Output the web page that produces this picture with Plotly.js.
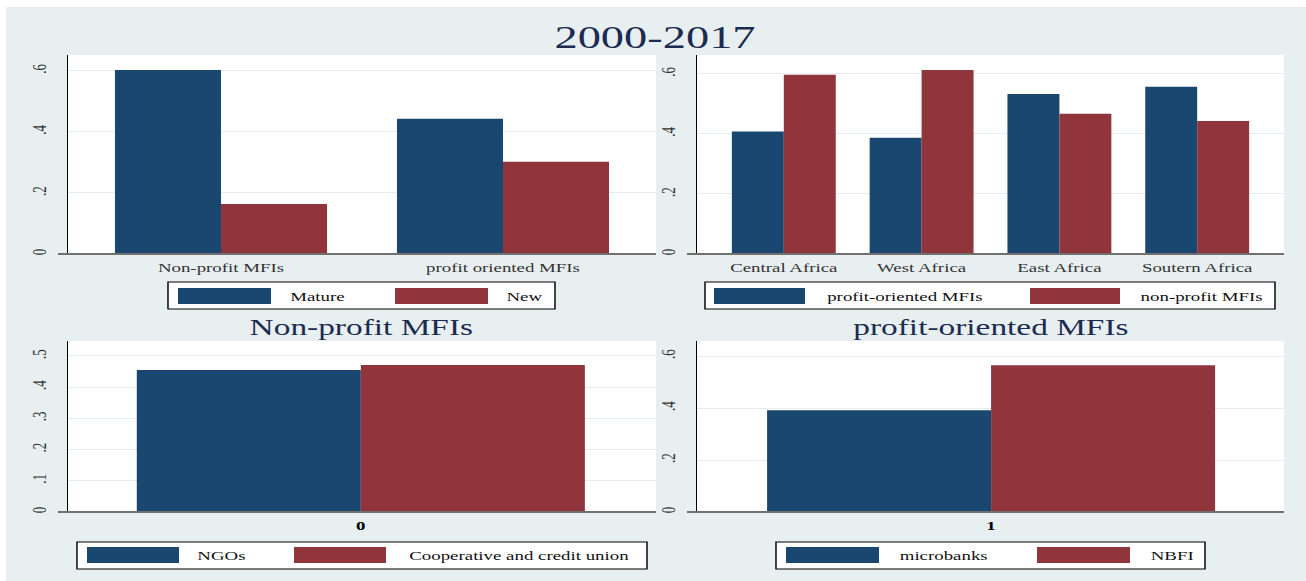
<!DOCTYPE html>
<html><head><meta charset="utf-8">
<script src="https://cdn.plot.ly/plotly-3.0.1.min.js"></script>
<style>
html,body{margin:0;padding:0;background:#fff;overflow:hidden}
#wrap{width:1306px;height:581px;overflow:hidden}
#chart{width:900px;height:581px;transform:scale(1.451111,1);transform-origin:0 0}
</style></head>
<body><div id="wrap"><div id="chart"></div></div>
<script>
// ---------- data ----------
const ownershipCategories = ['Non-profit MFIs', 'profit oriented MFIs'];
const matureShare = [0.603, 0.443];
const newShare = [0.164, 0.302];

const regions = ['Central Africa', 'West Africa', 'East Africa', 'Soutern Africa'];
const profitOrientedShare = [0.408, 0.387, 0.533, 0.557];
const nonProfitShare = [0.597, 0.613, 0.467, 0.443];

const nonProfitCategory = ['0'];
const ngoShare = [0.455];
const coopShare = [0.471];

const profitCategory = ['1'];
const microbankShare = [0.392];
const nbfiShare = [0.565];

const tickVals6 = [0, 0.2, 0.4, 0.6];
const tickText6 = ['0', '.2', '.4', '.6'];
const tickVals5 = [0, 0.1, 0.2, 0.3, 0.4, 0.5];
const tickText5 = ['0', '.1', '.2', '.3', '.4', '.5'];

const legendTop1 = ['Mature', 'New'];
const legendTop2 = ['profit-oriented MFIs', 'non-profit MFIs'];
const legendBot1 = ['NGOs', 'Cooperative and credit union'];
const legendBot2 = ['microbanks', 'NBFI'];

const mainTitle = '2000-2017';
const subTitles = ['Non-profit MFIs', 'profit-oriented MFIs'];

// ---------- style ----------
const NAVY = '#1a476f', MAROON = '#90353b';
const BG = '#E8EFF1', GRID = '#E4ECEF';
const SERIF = 'Liberation Serif, Times New Roman, serif';
const W = 1306, H = 581;
const X = px => px / W;
const Y = py => 1 - py / H;

function bar(x, y, color, xa, ya, w, off) {
  return {type: 'bar', x: x, y: y, xaxis: xa, yaxis: ya, width: w, offset: off,
          marker: {color: color, line: {width: 0}}, hoverinfo: 'skip'};
}

const data = [
  bar(ownershipCategories, matureShare, NAVY, 'x', 'y', 0.376, -0.376),
  bar(ownershipCategories, newShare, MAROON, 'x', 'y', 0.376, 0),
  bar(regions, profitOrientedShare, NAVY, 'x2', 'y2', 0.377, -0.377),
  bar(regions, nonProfitShare, MAROON, 'x2', 'y2', 0.377, 0),
  bar(nonProfitCategory, ngoShare, NAVY, 'x3', 'y3', 0.381, -0.381),
  bar(nonProfitCategory, coopShare, MAROON, 'x3', 'y3', 0.381, 0),
  bar(profitCategory, microbankShare, NAVY, 'x4', 'y4', 0.3816, -0.3816),
  bar(profitCategory, nbfiShare, MAROON, 'x4', 'y4', 0.3816, 0)
];

function xax(d, range, anchor, font) {
  return {domain: d, type: 'category', range: range, anchor: anchor,
          showgrid: false, zeroline: false, showline: false, ticks: '',
          tickfont: font, ticklabelstandoff: 4, fixedrange: true};
}
function yax(d, range, tv, tt, anchor) {
  return {domain: d, range: range, anchor: anchor, tickvals: tv, ticktext: tt,
          tickangle: -90, showline: true, linecolor: '#000', linewidth: 1,
          ticks: '', showgrid: true, gridcolor: GRID, gridwidth: 1, zeroline: false,
          tickfont: {family: SERIF, size: 13, color: '#333'},
          ticklabelstandoff: 9, fixedrange: true};
}
const catFont = {family: SERIF, size: 13, color: '#333'};
const boldFont = {family: SERIF, size: 13, color: '#000', weight: 'bold'};

const shapes = [
  // white strips outside the graph region
  {type: 'rect', xref: 'paper', yref: 'paper', x0: 0, x1: 1, y0: Y(7), y1: 1, fillcolor: '#fff', line: {width: 0}, layer: 'below'},
  {type: 'rect', xref: 'paper', yref: 'paper', x0: 0, x1: X(6), y0: 0, y1: 1, fillcolor: '#fff', line: {width: 0}, layer: 'below'},
];
// x-axis baselines
[[58, 656, 254], [687, 1284, 254], [58, 656, 512], [687, 1284, 512]].forEach(a => {
  shapes.push({type: 'line', xref: 'paper', yref: 'paper', x0: X(a[0]), x1: X(a[1]), y0: Y(a[2]), y1: Y(a[2]),
               line: {color: '#707070', width: 2}});
});

const annotations = [];
function legend(box, sw1, sw2, t1, t2, labels, swy) {
  shapes.push({type: 'rect', xref: 'paper', yref: 'paper', x0: X(box[0]), x1: X(box[1]), y0: Y(box[3]), y1: Y(box[2]),
               fillcolor: '#fff', line: {color: '#000', width: 1}});
  shapes.push({type: 'rect', xref: 'paper', yref: 'paper', x0: X(sw1[0]), x1: X(sw1[1]), y0: Y(swy[1]), y1: Y(swy[0]),
               fillcolor: NAVY, line: {width: 0}});
  shapes.push({type: 'rect', xref: 'paper', yref: 'paper', x0: X(sw2[0]), x1: X(sw2[1]), y0: Y(swy[1]), y1: Y(swy[0]),
               fillcolor: MAROON, line: {width: 0}});
  const ym = Y((swy[0] + swy[1]) / 2);
  annotations.push({xref: 'paper', yref: 'paper', x: X(t1), y: ym, xanchor: 'center', yanchor: 'middle', showarrow: false,
                    text: labels[0], font: {family: SERIF, size: 13, color: '#111'}});
  annotations.push({xref: 'paper', yref: 'paper', x: X(t2), y: ym, xanchor: 'center', yanchor: 'middle', showarrow: false,
                    text: labels[1], font: {family: SERIF, size: 13, color: '#111'}});
}
legend([168, 555, 282, 309], [178, 271], [395, 488], 318, 524, legendTop1, [288, 304]);
legend([705, 1275, 282, 309], [714, 805], [1030, 1120], 905, 1202, legendTop2, [288, 304]);
legend([77, 647, 542, 569], [87, 179], [294, 386], 222, 519, legendBot1, [547, 563]);
legend([776, 1205, 542, 569], [786, 879], [1037, 1130], 944, 1172, legendBot2, [547, 563]);

annotations.push({xref: 'paper', yref: 'paper', x: X(362), y: Y(327), xanchor: 'center', yanchor: 'middle', showarrow: false,
                  text: subTitles[0], font: {family: SERIF, size: 23, color: '#1c2b50'}});
annotations.push({xref: 'paper', yref: 'paper', x: X(991), y: Y(327), xanchor: 'center', yanchor: 'middle', showarrow: false,
                  text: subTitles[1], font: {family: SERIF, size: 23, color: '#1c2b50'}});

const layout = {
  width: 900, height: H,
  margin: {l: 0, r: 0, t: 0, b: 0},
  paper_bgcolor: BG, plot_bgcolor: '#fff',
  showlegend: false,
  barmode: 'group',
  title: {text: mainTitle, x: X(655), xanchor: 'center', y: Y(37), yanchor: 'middle',
          font: {family: SERIF, size: 32, color: '#1c2b50'}},
  xaxis: xax([X(68), X(656)], [-0.5426, 1.5426], 'y', catFont),
  yaxis: yax([Y(254), Y(55)], [0, 0.652], tickVals6, tickText6, 'x'),
  xaxis2: xax([X(697), X(1284)], [-0.63, 3.63], 'y2', catFont),
  yaxis2: yax([Y(254), Y(55)], [0, 0.663], tickVals6, tickText6, 'x2'),
  xaxis3: xax([X(68), X(656)], [-0.498, 0.502], 'y3', boldFont),
  yaxis3: yax([Y(512), Y(341)], [0, 0.548], tickVals5, tickText5, 'x3'),
  xaxis4: xax([X(697), X(1284)], [-0.501, 0.499], 'y4', boldFont),
  yaxis4: yax([Y(512), Y(341)], [0, 0.658], tickVals6, tickText6, 'x4'),
  shapes: shapes,
  annotations: annotations
};

Plotly.newPlot('chart', data, layout, {displayModeBar: false, staticPlot: true});
</script>
</body></html>
